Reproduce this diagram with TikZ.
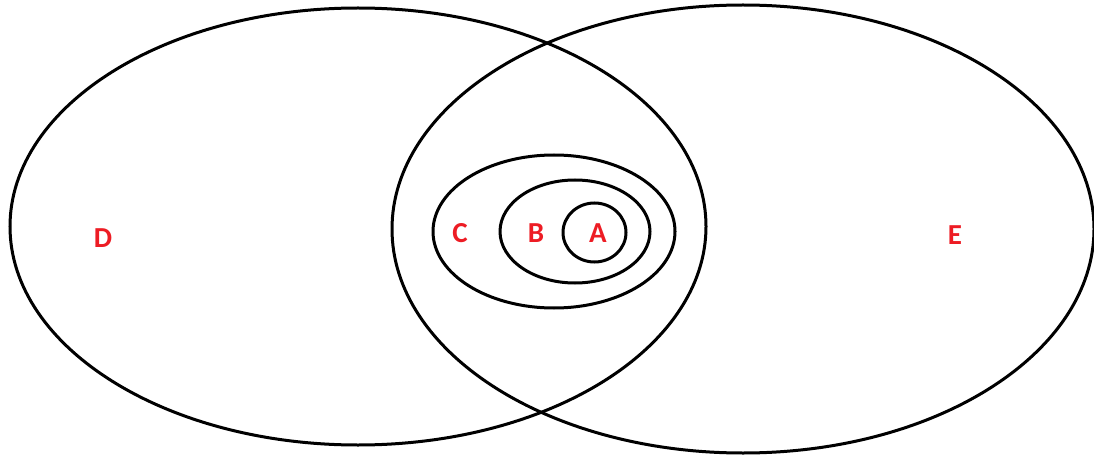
\documentclass[tikz,border=0pt]{standalone}
\usepackage{fontspec}
\setmainfont{Carlito}
\usetikzlibrary{shapes.geometric}
\definecolor{ink}{HTML}{000000}
\definecolor{setred}{HTML}{ED1C24}
\tikzset{
  setring/.style={ellipse,draw=ink,line width=3pt,inner sep=0pt},
  setname/.style={font=\bfseries\fontsize{29}{34}\selectfont,text=setred,inner sep=0}
}

\begin{document}
\begin{tikzpicture}[x=1pt,y=-1pt]
  \path[use as bounding box] (0,0) rectangle (1094,457);

  \node[setring,minimum width=696pt,minimum height=437pt] (setD) at (358,226.5) {};
  \node[setring,minimum width=702pt,minimum height=448pt] (setE) at (743,229) {};
  \node[setring,minimum width=242pt,minimum height=153pt] (setC) at (554,231.5) {};
  \node[setring,minimum width=150pt,minimum height=103pt] (setB) at (575,231.5) {};
  \node[setring,minimum width=63pt,minimum height=59pt] (setA) at (594.5,232.5) {};

  \node[setname] (labD) at (103,238) {D};
  \node[setname] (labC) at (460,233) {C};
  \node[setname] (labB) at (536,233) {B};
  \node[setname] (labA) at (598,233) {A};
  \node[setname] (labE) at (955,235) {E};
\end{tikzpicture}
\end{document}
